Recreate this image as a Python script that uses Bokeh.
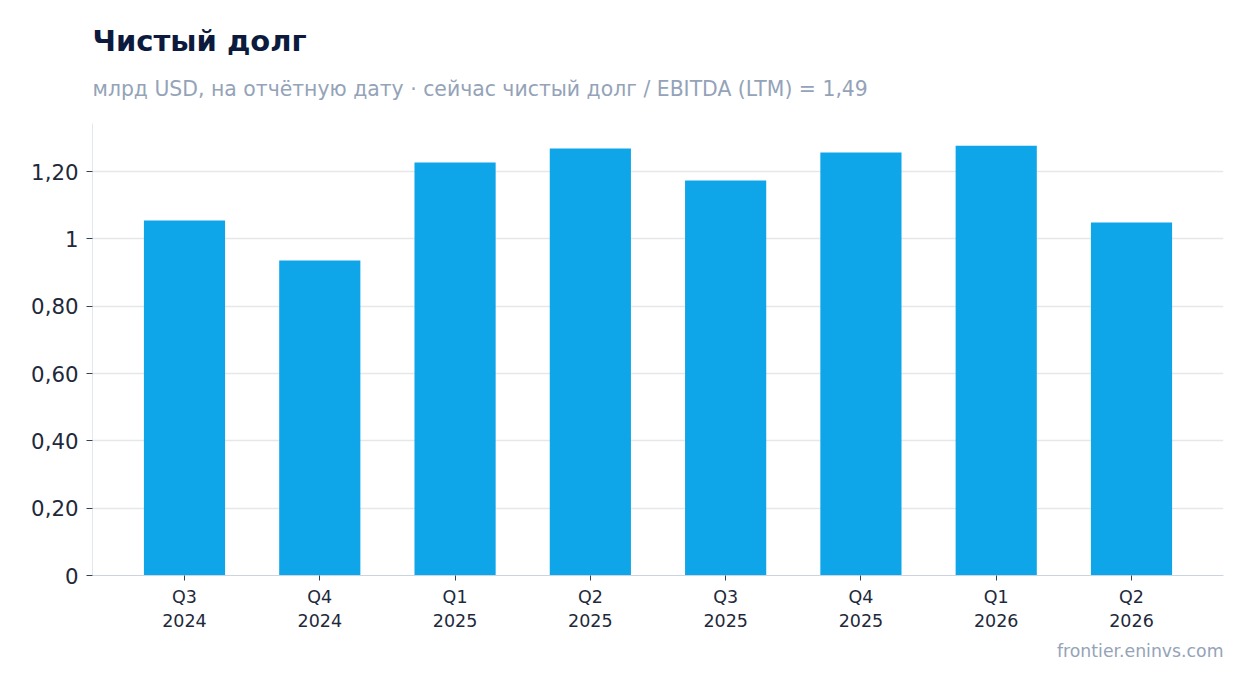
from bokeh.plotting import figure
from bokeh.models import ColumnDataSource, FactorRange, Range1d, FixedTicker, Title
from bokeh.embed import file_html
from bokeh.resources import INLINE

quarters = ["Q3\n2024", "Q4\n2024", "Q1\n2025", "Q2\n2025", "Q3\n2025", "Q4\n2025", "Q1\n2026", "Q2\n2026"]
net_debt = [1.055, 0.936, 1.227, 1.269, 1.174, 1.257, 1.277, 1.049]
y_ticks = [0, 0.2, 0.4, 0.6, 0.8, 1.0, 1.2]
y_tick_labels = ["0", "0,20", "0,40", "0,60", "0,80", "1", "1,20"]

FONT = "DejaVu Sans"

src = ColumnDataSource(dict(q=quarters, v=net_debt))

p = figure(
    width=1238, height=677,
    x_range=FactorRange(*quarters, range_padding=0.045),
    y_range=Range1d(0, 1.343),
    output_backend="svg", toolbar_location=None,
    min_border_left=92, min_border_right=15, min_border_bottom=102, min_border_top=123,
)
p.title.text = ""

p.vbar(x="q", top="v", width=0.6, source=src, color="#0ea5e9", line_color=None)

# titles
sub = Title(text="млрд USD, на отчётную дату · сейчас чистый долг / EBITDA (LTM) = 1,49",
            text_font=FONT, text_font_size="20.4px", text_color="#94a3b8",
            text_font_style="normal", align="left", standoff=45)
main = Title(text="Чистый долг", text_font=FONT, text_font_size="29px",
             text_color="#0b1a3d", text_font_style="bold", align="left", standoff=-10)
p.add_layout(sub, "above")
p.add_layout(main, "above")
foot = Title(text="frontier.eninvs.com", text_font=FONT, text_font_size="17.3px",
             text_color="#94a3b8", text_font_style="normal", align="right", standoff=10)
p.add_layout(foot, "below")

p.yaxis.ticker = FixedTicker(ticks=y_ticks)
p.yaxis.major_label_overrides = {t: l for t, l in zip(y_ticks, y_tick_labels)}
p.yaxis.major_label_text_font = FONT
p.yaxis.major_label_text_font_size = "21.3px"
p.yaxis.major_label_text_color = "#1e293b"
p.yaxis.axis_line_color = "#e2e8f0"
p.yaxis.major_tick_line_color = "#334155"
p.yaxis.major_tick_in = 0
p.yaxis.major_tick_out = 6
p.yaxis.minor_tick_line_color = None
p.yaxis.major_label_standoff = 8

p.xaxis.major_label_text_font = FONT
p.xaxis.major_label_text_font_size = "17.5px"
p.xaxis.major_label_text_color = "#1e293b"
p.xaxis.axis_line_color = "#cbd5e1"
p.xaxis.major_tick_line_color = "#334155"
p.xaxis.major_tick_in = 0
p.xaxis.major_tick_out = 5
p.xaxis.major_label_standoff = 6

p.xgrid.grid_line_color = None
p.ygrid.grid_line_color = "#e5e7eb"
p.ygrid.grid_line_width = 1.5
p.outline_line_color = None

open("out.html", "w").write(file_html(p, INLINE))
